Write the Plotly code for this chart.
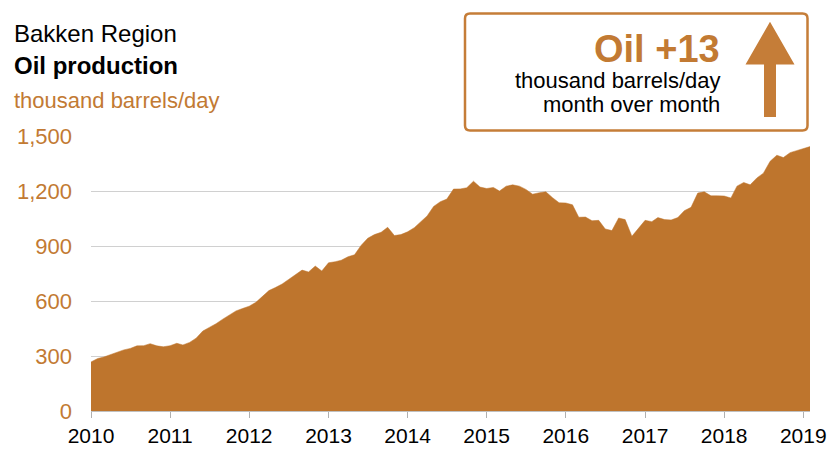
import pandas as pd
import plotly.graph_objects as go

start_month = "2010-01-01"
oil_production = [
    268, 287, 295, 308, 322, 334, 342, 356, 357, 368, 356, 351,
    357, 370, 361, 375, 398, 437, 457, 477, 502, 524, 547, 560,
    573, 594, 627, 658, 675, 694, 719, 745, 770, 760, 792, 765,
    810, 816, 824, 843, 854, 906, 944, 964, 977, 1004, 959, 964,
    979, 1002, 1035, 1066, 1118, 1144, 1158, 1213, 1214, 1220, 1256, 1224,
    1216, 1222, 1202, 1229, 1236, 1229, 1211, 1185, 1193, 1198, 1166, 1138,
    1137, 1127, 1059, 1060, 1040, 1042, 995, 986, 1055, 1046, 955, 997,
    1042, 1035, 1057, 1046, 1044, 1057, 1095, 1113, 1191, 1198, 1176, 1176,
    1175, 1164, 1229, 1249, 1236, 1274, 1300, 1365, 1398, 1385, 1412, 1423,
    1436, 1445,
]
year_labels = ["2010", "2011", "2012", "2013", "2014", "2015", "2016", "2017", "2018", "2019"]
y_ticks = [0, 300, 600, 900, 1200, 1500]
change_text = "Oil +13"

months = pd.date_range(start_month, periods=len(oil_production), freq="MS")
year_ticks = [f"{y}-01-01" for y in year_labels]

W, H = 835, 461
L, R, T, B = 91, 25, 136, 50
PW, PH = W - L - R, H - T - B

def px(x):
    return (x - L) / PW

def py(y):
    return (H - B - y) / PH

FILL = "#BE752D"
ORANGE = "#C27A33"
BOXC = "#C57D38"
FONT = "Liberation Sans, Arial, sans-serif"

fig = go.Figure()
fig.add_trace(go.Scatter(
    x=months, y=oil_production, mode="lines", fill="tozeroy",
    fillcolor=FILL, line=dict(color=FILL, width=0.5), hoverinfo="x+y",
    showlegend=False,
))

# rounded box
x0, y0, x1, y1, r = 465, 13.5, 807.5, 130.5, 5
rx, ry = r / PW, r / PH
X0, X1, Y0, Y1 = px(x0), px(x1), py(y0), py(y1)
box_path = (
    f"M {X0+rx},{Y0} L {X1-rx},{Y0} Q {X1},{Y0} {X1},{Y0-ry} "
    f"L {X1},{Y1+ry} Q {X1},{Y1} {X1-rx},{Y1} "
    f"L {X0+rx},{Y1} Q {X0},{Y1} {X0},{Y1+ry} "
    f"L {X0},{Y0-ry} Q {X0},{Y0} {X0+rx},{Y0} Z"
)
arrow_pts = [(770, 21.7), (794.5, 64.5), (776, 64.5), (776, 117), (764, 117), (764, 64.5), (745.5, 64.5)]
arrow_path = "M " + " L ".join(f"{px(a)},{py(b)}" for a, b in arrow_pts) + " Z"

fig.update_layout(
    width=W, height=H,
    margin=dict(l=L, r=R, t=T, b=B),
    paper_bgcolor="white", plot_bgcolor="white",
    font=dict(family=FONT),
    shapes=[
        dict(type="path", xref="paper", yref="paper", path=box_path,
             line=dict(color=BOXC, width=2.5), fillcolor="rgba(0,0,0,0)", layer="above"),
        dict(type="path", xref="paper", yref="paper", path=arrow_path,
             line=dict(width=0), fillcolor=BOXC, layer="above"),
    ],
    annotations=[
        dict(text="Bakken Region", x=px(12), y=py(33), xref="paper", yref="paper",
             xanchor="left", yanchor="middle", showarrow=False,
             font=dict(size=24, color="black", family=FONT)),
        dict(text="<b>Oil production</b>", x=px(12), y=py(65.5), xref="paper", yref="paper",
             xanchor="left", yanchor="middle", showarrow=False,
             font=dict(size=24, color="black", family=FONT)),
        dict(text="thousand barrels/day", x=px(12), y=py(100), xref="paper", yref="paper",
             xanchor="left", yanchor="middle", showarrow=False,
             font=dict(size=22, color=ORANGE, family=FONT)),
        dict(text=f"<b>{change_text}</b>", x=px(722), y=py(49), xref="paper", yref="paper",
             xanchor="right", yanchor="middle", showarrow=False,
             font=dict(size=38, color=ORANGE, family=FONT)),
        dict(text="thousand barrels/day", x=px(722), y=py(80), xref="paper", yref="paper",
             xanchor="right", yanchor="middle", showarrow=False,
             font=dict(size=22, color="black", family=FONT)),
        dict(text="month over month", x=px(722), y=py(105), xref="paper", yref="paper",
             xanchor="right", yanchor="middle", showarrow=False,
             font=dict(size=22, color="black", family=FONT)),
    ],
)

fig.update_xaxes(
    type="date", range=[months[0], months[-1]],
    tickvals=year_ticks, ticktext=year_labels,
    ticks="outside", ticklen=6, tickcolor="#b0b0b0", tickwidth=1,
    showline=True, linecolor="#c0c0c0", linewidth=1,
    showgrid=False, zeroline=False, automargin=False,
    tickfont=dict(size=21, color="black", family=FONT),
)
fig.update_yaxes(
    range=[0, 1503], tickvals=y_ticks, tickformat=",",
    showgrid=True, gridcolor="#d0d0d0", gridwidth=1,
    zeroline=False, showline=False, ticks="", automargin=False,
    ticklabelstandoff=18,
    tickfont=dict(size=22, color=ORANGE, family=FONT),
)

fig.write_html("out.html")
